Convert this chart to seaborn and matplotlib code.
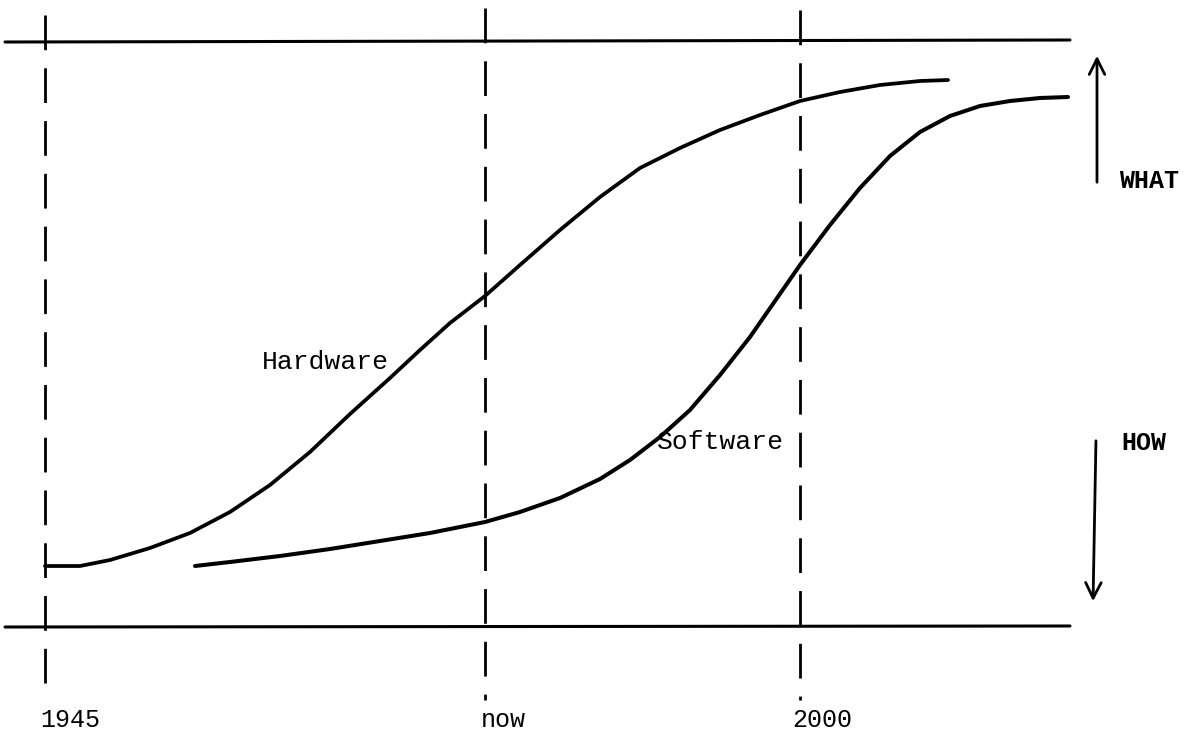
import pandas as pd
import matplotlib.pyplot as plt
import seaborn as sns

hw_x = [45, 80, 110, 150, 190, 230, 270, 310, 350, 390, 420, 450, 485, 520,
        560, 600, 640, 680, 720, 760, 800, 840, 880, 920, 948]
hw_y = [566, 566, 560, 548, 533, 512, 485, 452, 414, 378, 350, 323, 296, 265,
        230, 197, 168, 148, 130, 115, 101, 92, 85, 81, 80]

sw_x = [195, 230, 280, 330, 380, 430, 485, 520, 560, 600, 630, 660, 690, 720,
        750, 775, 800, 830, 860, 890, 920, 950, 980, 1010, 1040, 1068]
sw_y = [566, 562, 556, 549, 541, 533, 522, 512, 498, 479, 460, 437, 410, 375,
        337, 301, 265, 225, 188, 156, 132, 116, 106, 101, 98, 97]

tick_labels = ["1945", "now", "2000"]
tick_x = [45, 485, 800]
tick_top = [15, 8, 10]
label_shift = [-5, -4, -8]

top_x, top_y = [5, 1070], [42, 40]
bot_x, bot_y = [5, 1070], [627, 626]

hw = pd.DataFrame({"t": hw_x, "level": hw_y})
sw = pd.DataFrame({"t": sw_x, "level": sw_y})

sns.set_style("white")
plt.rcParams["font.family"] = ["Liberation Mono", "DejaVu Sans Mono"]
plt.rcParams["text.color"] = "black"

fig = plt.figure(figsize=(11.91, 7.37), dpi=100)
ax = fig.add_axes([0, 0, 1, 1])

sns.lineplot(x="t", y="level", data=hw, sort=False, color="black", lw=2.7, ax=ax)
sns.lineplot(x="t", y="level", data=sw, sort=False, color="black", lw=2.9, ax=ax)

ax.plot(top_x, top_y, color="black", lw=2.2)
ax.plot(bot_x, bot_y, color="black", lw=2.2)

for x, y0 in zip(tick_x, tick_top):
    ax.plot([x, x], [y0, 700], color="black", lw=2.0, linestyle=(0, (12.5, 6.5)))

for lab, x, dx in zip(tick_labels, tick_x, label_shift):
    ax.text(x + dx, 720, lab, fontsize=18, ha="left", va="center")

ax.text(262, 362, "Hardware", fontsize=19, ha="left", va="center")
ax.text(657, 442, "Software", fontsize=19, ha="left", va="center")

ax.annotate("", xy=(1097, 53), xytext=(1097, 185),
            arrowprops=dict(arrowstyle="->", color="black", lw=2.0,
                            mutation_scale=28))
ax.annotate("", xy=(1093, 604), xytext=(1096, 438),
            arrowprops=dict(arrowstyle="->", color="black", lw=2.0,
                            mutation_scale=28))
ax.text(1119, 181, "WHAT", fontsize=18, fontweight="bold", ha="left", va="center")
ax.text(1121, 443, "HOW", fontsize=18, fontweight="bold", ha="left", va="center")

ax.set_xlim(0, 1191)
ax.set_ylim(737, 0)
ax.axis("off")

plt.savefig("out.png", dpi=100)
